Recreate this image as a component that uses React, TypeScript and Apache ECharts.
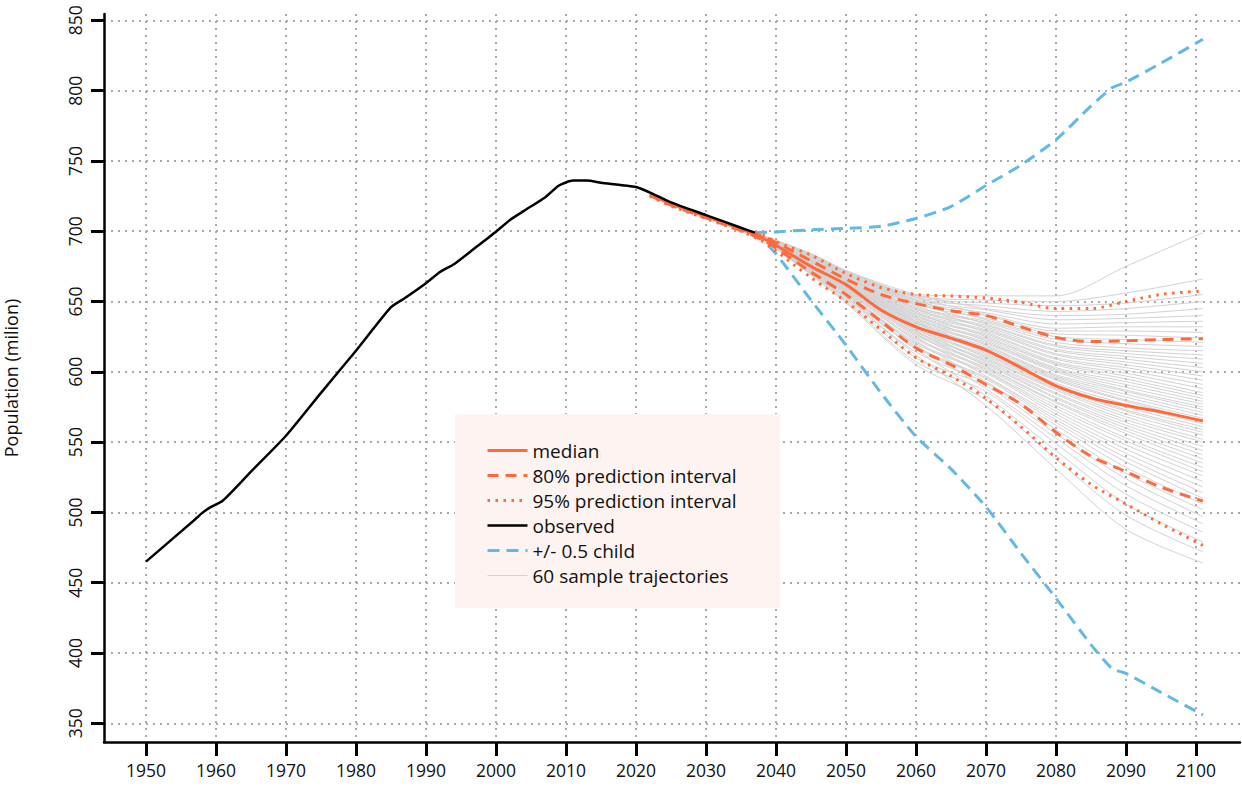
import React, { useEffect, useRef } from "react";
import * as echarts from "echarts";

const xTicks = [1950, 1960, 1970, 1980, 1990, 2000, 2010, 2020, 2030, 2040, 2050, 2060, 2070, 2080, 2090, 2100];
const yTicks = [350, 400, 450, 500, 550, 600, 650, 700, 750, 800, 850];

const obsYears = [1950, 1957, 1958, 1959, 1961, 1965, 1970, 1975, 1980, 1985, 1987, 1990, 1992, 1994, 1997, 2000, 2002, 2004, 2007, 2009, 2011, 2013, 2015, 2020, 2022, 2025, 2030, 2035, 2037];
const observed = [465, 495, 499.5, 503, 508.5, 529, 554.5, 585, 615, 646, 652.5, 663, 671, 676.5, 688, 699.6, 708, 714.5, 724, 732.5, 736, 736, 734.5, 731.5, 727.5, 720.5, 711.5, 702.5, 699];

const projYears = [2022, 2025, 2030, 2035, 2038, 2040, 2045, 2050, 2055, 2060, 2065, 2070, 2075, 2080, 2085, 2090, 2095, 2101];
const median = [726.5, 719.5, 710.5, 701.5, 695.5, 690, 675, 662, 644, 632, 624, 615.5, 603, 590, 581.5, 576, 571.5, 565];
const pi80Upper = [726.5, 719.5, 710.5, 701.5, 696.5, 692, 679, 666, 655, 648.5, 643.5, 640, 632, 624.5, 621.5, 622, 623, 623.5];
const pi80Lower = [725.5, 718.5, 709.5, 700.5, 694, 688, 671, 655, 636, 617, 605, 591, 577, 557, 540, 529, 518, 508];
const pi95Upper = [726, 719, 710, 701, 697.5, 692.5, 683, 670, 660, 655, 654, 652.5, 649.5, 645, 645, 650, 655, 657.5];
const pi95Lower = [725, 718, 709, 700, 693, 686, 667, 650, 630, 610, 597, 581, 561, 539, 520, 506, 492, 476.5];

const childYears = [2037, 2040, 2045, 2050, 2055, 2060, 2065, 2070, 2075, 2080, 2085, 2088, 2090, 2095, 2101];
const childUpper = [699, 699.5, 701, 702, 703.5, 709, 717.5, 732.5, 747, 765, 789, 802, 806, 819.5, 836.5];
const childLower = [699, 684, 651, 619, 585, 554, 531, 504, 471, 439, 406, 389, 385.5, 372, 356];

const trajYears = [2037, 2045, 2050, 2060, 2070, 2080, 2090, 2101];
const trajectories = [
  [699, 670, 652, 612, 576, 531, 488, 464],
  [699, 669, 649, 605, 580, 538, 498, 472],
  [699, 671, 653, 616, 583, 544, 506, 479],
  [699, 669, 650, 607, 586, 549, 513, 486],
  [699, 672, 655, 619, 588, 553, 519, 492],
  [699, 670, 651, 610, 590, 556, 524, 497],
  [699, 670, 653, 614, 592, 559, 528, 502],
  [699, 672, 657, 622, 593, 562, 532, 506],
  [699, 671, 654, 617, 595, 564, 536, 510],
  [699, 671, 655, 618, 596, 566, 539, 514],
  [699, 673, 658, 625, 597, 568, 542, 518],
  [699, 672, 656, 620, 599, 570, 545, 522],
  [699, 672, 656, 621, 600, 572, 548, 526],
  [699, 674, 659, 627, 601, 574, 551, 529],
  [699, 673, 657, 623, 602, 576, 553, 532],
  [699, 673, 658, 624, 603, 578, 556, 535],
  [699, 675, 660, 629, 604, 579, 558, 538],
  [699, 673, 658, 626, 605, 581, 560, 541],
  [699, 674, 659, 627, 606, 582, 562, 544],
  [699, 675, 661, 631, 607, 584, 564, 547],
  [699, 674, 659, 628, 608, 585, 566, 550],
  [699, 674, 660, 629, 609, 587, 568, 552],
  [699, 676, 662, 633, 610, 588, 570, 555],
  [699, 675, 660, 630, 611, 589, 572, 557],
  [699, 675, 661, 631, 612, 590, 573, 559],
  [699, 677, 662, 635, 613, 591, 575, 561],
  [699, 676, 661, 632, 614, 592, 577, 563],
  [699, 676, 661, 632, 615, 594, 579, 565],
  [699, 677, 663, 636, 616, 595, 580, 567],
  [699, 676, 662, 633, 617, 596, 582, 569],
  [699, 677, 662, 634, 618, 597, 584, 571],
  [699, 678, 664, 638, 619, 598, 586, 573],
  [699, 677, 663, 635, 620, 600, 587, 575],
  [699, 677, 663, 636, 621, 601, 589, 577],
  [699, 679, 665, 640, 622, 602, 591, 579],
  [699, 678, 664, 637, 623, 603, 593, 581],
  [699, 678, 664, 638, 624, 605, 595, 583],
  [699, 680, 666, 642, 625, 606, 597, 585],
  [699, 678, 665, 639, 626, 607, 599, 588],
  [699, 679, 665, 640, 627, 609, 601, 591],
  [699, 680, 667, 645, 628, 610, 603, 594],
  [699, 679, 666, 641, 629, 612, 605, 597],
  [699, 679, 666, 642, 630, 613, 607, 600],
  [699, 681, 668, 647, 631, 615, 609, 603],
  [699, 680, 667, 643, 632, 616, 611, 606],
  [699, 680, 667, 644, 633, 618, 613, 609],
  [699, 682, 669, 649, 634, 619, 615, 612],
  [699, 681, 668, 645, 635, 621, 617, 615],
  [699, 681, 668, 646, 636, 623, 620, 618],
  [699, 683, 670, 651, 637, 625, 623, 621],
  [699, 681, 669, 648, 638, 627, 626, 624],
  [699, 682, 669, 649, 640, 629, 629, 628],
  [699, 683, 671, 653, 641, 631, 632, 632],
  [699, 682, 670, 650, 642, 634, 635, 636],
  [699, 682, 670, 651, 644, 637, 638, 640],
  [699, 684, 672, 655, 645, 640, 641, 645],
  [699, 683, 671, 652, 647, 643, 645, 650],
  [699, 683, 671, 653, 649, 647, 649, 655],
  [699, 684, 672, 654, 651, 650, 656, 666],
  [699, 684, 672, 655, 654, 654, 675, 699],
];

const ORANGE = "#ff6a3d";
const BLUE = "#63b8e6";
const GRAY = "#d2d2d2";
const FONT = "Open Sans";

const zip = (xs: number[], ys: number[]) => xs.map((x, i) => [x, ys[i]]);

export default function App() {
  const ref = useRef<HTMLDivElement>(null);
  useEffect(() => {
    if (!ref.current) return;
    const chart = echarts.init(ref.current, undefined, { renderer: "svg" });
    const base = { type: "line", symbol: "none", showSymbol: false, silent: true };
    const series: any[] = [];
    trajectories.forEach((row) => {
      series.push({
        ...base,
        name: "60 sample trajectories",
        data: zip(trajYears, row),
        smooth: 0.3,
        lineStyle: { color: GRAY, width: 1 },
        itemStyle: { color: GRAY },
        z: 1,
      });
    });
    [childUpper, childLower].forEach((v) =>
      series.push({
        ...base,
        name: "+/- 0.5 child",
        data: zip(childYears, v),
        smooth: 0.2,
        lineStyle: { color: BLUE, width: 3, type: [12, 7] },
        itemStyle: { color: BLUE },
        z: 2,
      })
    );
    [pi95Upper, pi95Lower].forEach((v) =>
      series.push({
        ...base,
        name: "95% prediction interval",
        data: zip(projYears, v),
        smooth: 0.3,
        lineStyle: { color: ORANGE, width: 3, type: [2.5, 5.5] },
        itemStyle: { color: ORANGE },
        z: 3,
      })
    );
    [pi80Upper, pi80Lower].forEach((v) =>
      series.push({
        ...base,
        name: "80% prediction interval",
        data: zip(projYears, v),
        smooth: 0.3,
        lineStyle: { color: ORANGE, width: 3, type: [11, 7] },
        itemStyle: { color: ORANGE },
        z: 3,
      })
    );
    series.push({
      ...base,
      name: "median",
      data: zip(projYears, median),
      smooth: 0.3,
      lineStyle: { color: ORANGE, width: 3 },
      itemStyle: { color: ORANGE },
      z: 4,
    });
    series.push({
      ...base,
      name: "observed",
      data: zip(obsYears, observed),
      smooth: 0.2,
      lineStyle: { color: "#000", width: 2.5 },
      itemStyle: { color: "#000" },
      z: 5,
    });

    const gridLine = { show: true, lineStyle: { color: "#aaaaaa", width: 2, type: [2, 5] } };

    chart.setOption({
      animation: false,
      backgroundColor: "#ffffff",
      grid: { left: 104, right: 2, top: 14, bottom: 45, containLabel: false, outerBoundsMode: "none" },
      xAxis: {
        type: "value",
        min: 1944,
        max: 2106.3,
        axisLine: { show: true, lineStyle: { color: "#000", width: 2.5 } },
        axisTick: { show: true, length: 14, customValues: xTicks, lineStyle: { color: "#000", width: 3 } },
        axisLabel: {
          customValues: xTicks,
          formatter: (v: number) => String(v),
          fontSize: 17.5,
          fontFamily: FONT,
          color: "#111",
          margin: 19,
        },
        splitLine: gridLine,
      },
      yAxis: {
        type: "value",
        min: 336.7,
        max: 854.5,
        name: "Population (milion)",
        nameLocation: "middle",
        nameGap: 84,
        nameTextStyle: { fontSize: 18, fontFamily: FONT, color: "#111" },
        axisLine: { show: true, lineStyle: { color: "#000", width: 2.5 } },
        axisTick: { show: true, length: 13, customValues: yTicks, lineStyle: { color: "#000", width: 3 } },
        axisLabel: {
          customValues: yTicks,
          formatter: (v: number) => String(v),
          rotate: 90,
          fontSize: 17.5,
          fontFamily: FONT,
          color: "#111",
          margin: 20,
        },
        splitLine: gridLine,
      },
      graphic: [
        {
          type: "rect",
          shape: { x: 455, y: 414, width: 325, height: 194 },
          style: { fill: "#fdf4f1" },
          z: 1,
          silent: true,
        },
      ],
      legend: {
        orient: "vertical",
        left: 455,
        top: 414,
        padding: [27, 30, 20, 31],
        itemGap: 6,
        itemWidth: 40,
        itemHeight: 14,
        itemTextGap: 16,
        z: 6,
        selectedMode: false,
        itemStyle: { opacity: 0 },
        lineStyle: { width: "inherit" },
        textStyle: { fontSize: 19, fontFamily: FONT, color: "#111" },
        data: [
          "median",
          "80% prediction interval",
          "95% prediction interval",
          "observed",
          "+/- 0.5 child",
          "60 sample trajectories",
        ],
      },
      series,
    });
    return () => chart.dispose();
  }, []);
  return <div ref={ref} style={{ position: "fixed", left: 0, top: 0, width: 1242, height: 787 }} />;
}
